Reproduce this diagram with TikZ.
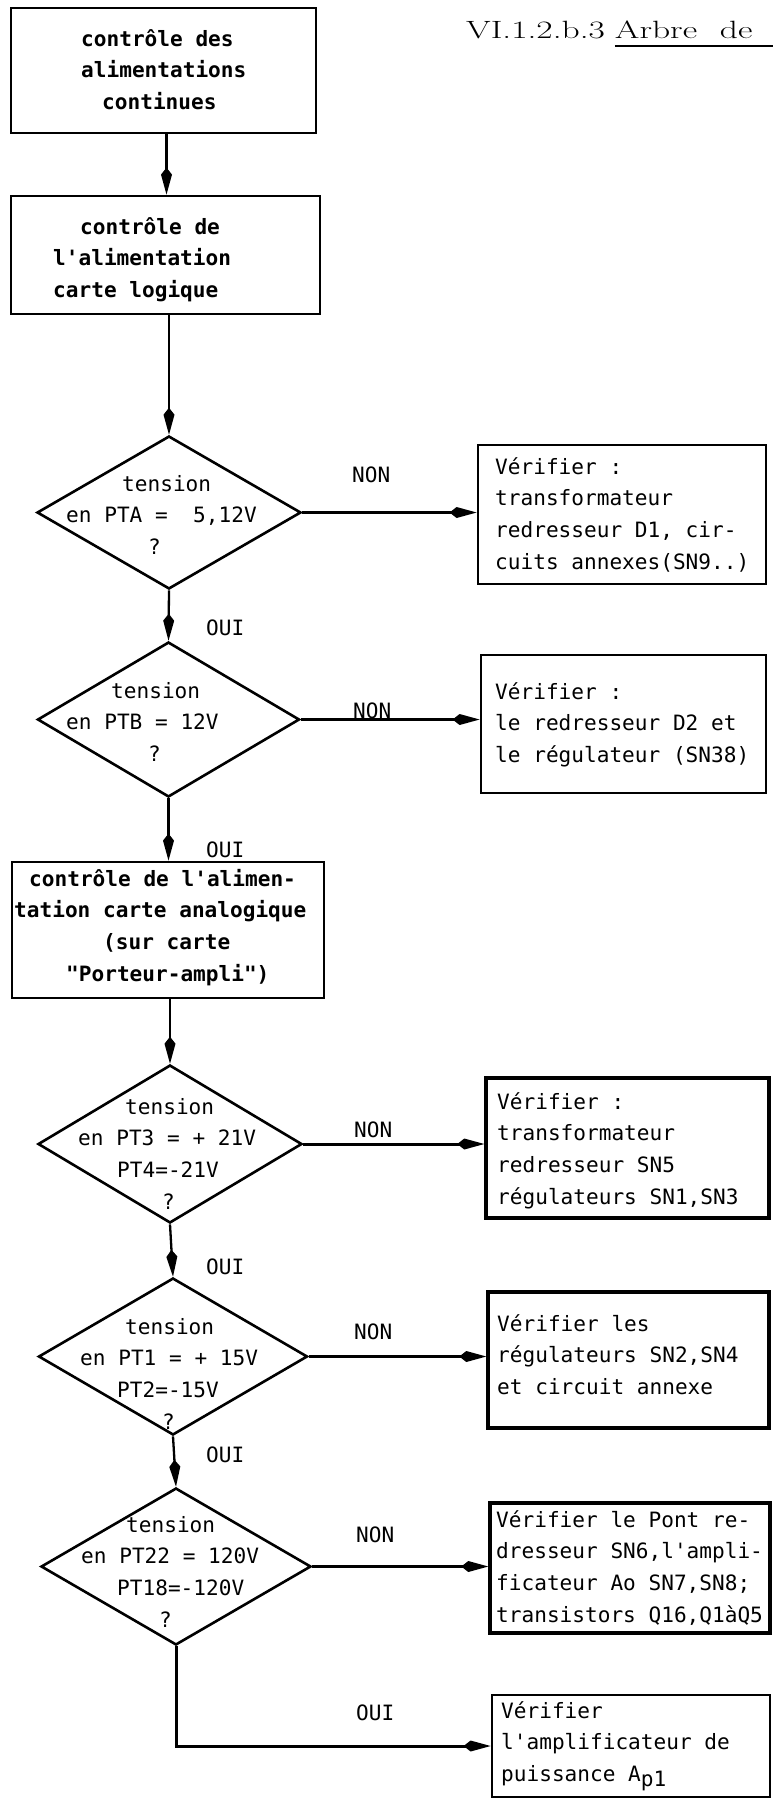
\documentclass[tikz,border=0pt]{standalone}
\usepackage{fontspec}
\usetikzlibrary{arrows.meta,shapes.geometric,fit}
\newfontfamily\typer[Ligatures=TeXOff]{DejaVu Sans Mono}
\newcommand\typesize{\fontsize{21.1}{31.7}\selectfont}

\begin{document}
\begin{tikzpicture}[x=1pt,y=-1pt,
  frame/.style={draw, rectangle, inner sep=0pt, line width=2.8pt},
  heavyframe/.style={frame, line width=3.4pt},
  decision/.style={draw, shape=diamond, inner sep=0pt, line width=2.6pt},
  typed/.style={font=\typer\typesize, align=left, inner sep=0pt, anchor=north west, yshift=22.19pt},
  boldtyped/.style={typed, font=\typer\typesize\bfseries},
  answer/.style={font=\typer\typesize, inner sep=0pt, anchor=base west},
  link/.style={line width=2.3pt, -{Kite[length=27pt,width=11pt,inset=7pt]}},
  sidelink/.style={link, line width=3pt},
]
\useasboundingbox (0,0) rectangle (773,1800);

% heading
\node[anchor=base west, inner sep=0pt] (title) at (466,38)
  {\fontsize{25}{29}\selectfont\scalebox{1.42}[1]{VI.1.2.b.3\hspace{7pt}\rlap{\rule[-9pt]{115pt}{1.6pt}}Arbre\hspace{16pt}de}};

% main column
\node[frame, fit={(11,8) (316,133)}] (b1) {};
\node[frame, fit={(11,196) (320,314)}] (b2) {};
\node[decision, minimum width=264pt, minimum height=153pt] (d1) at (169,512.5) {};
\node[decision, minimum width=262pt, minimum height=155pt] (d2) at (168.5,719.5) {};
\node[frame, fit={(12,862) (324,998)}] (b3) {};
\node[decision, minimum width=264pt, minimum height=158pt] (d3) at (170,1144) {};
\node[decision, minimum width=269pt, minimum height=157pt] (d4) at (173,1356.5) {};
\node[decision, minimum width=270pt, minimum height=157pt] (d5) at (176,1566.5) {};

% remedies on the right
\node[frame, fit={(478,445) (766,584)}] (rA) {};
\node[frame, fit={(481,655) (766,793)}] (rB) {};
\node[heavyframe, fit={(486,1078) (769,1218)}] (rC) {};
\node[heavyframe, fit={(488,1292) (769,1428)}] (rD) {};
\node[heavyframe, fit={(490,1503) (770,1633)}] (rE) {};
\node[frame, fit={(492,1695) (770,1797)}] (rF) {};

% texts of the main column
\node[boldtyped] (t1) at (81,46) {\strut contrôle des\\alimentations\\\hspace*{21pt}continues};
\node[boldtyped] (t2) at (53,234) {\strut\hspace*{27pt}contrôle de\\l'alimentation\\carte logique};
\node[boldtyped] (t3) at (14,886) {\strut\hspace*{15pt}contrôle de l'alimen-\\tation carte analogique\\\hspace*{89pt}(sur carte\\\hspace*{52pt}"Porteur-ampli")};

\node[typed] (q1) at (66,491) {\strut\hspace*{56pt}tension\\en PTA =~ 5,12V\\\hspace*{82pt}?};
\node[typed] (q2) at (66,698) {\strut\hspace*{45pt}tension\\en PTB = 12V\\\hspace*{82pt}?};
\node[typed] (q3) at (78,1114) {\strut\hspace*{47pt}tension\\en PT3 = + 21V\\\hspace*{39pt}PT4=-21V\\\hspace*{84pt}?};
\node[typed] (q4) at (80,1334) {\strut\hspace*{45pt}tension\\en PT1 = + 15V\\\hspace*{37pt}PT2=-15V\\\hspace*{82pt}?};
\node[typed] (q5) at (81,1532) {\strut\hspace*{45pt}tension\\en PT22 = 120V\\\hspace*{36pt}PT18=-120V\\\hspace*{78pt}?};

% texts of the remedies
\node[typed] (sA) at (495,474) {\strut Vérifier :\\transformateur\\redresseur D1, cir-\\cuits annexes(SN9..)};
\node[typed] (sB) at (495,699) {\strut Vérifier :\\le redresseur D2 et\\le régulateur (SN38)};
\node[typed] (sC) at (497,1109) {\strut Vérifier :\\transformateur\\redresseur SN5\\régulateurs SN1,SN3};
\node[typed] (sD) at (497,1331) {\strut Vérifier les\\régulateurs SN2,SN4\\et circuit annexe};
\node[typed] (sE) at (496,1527) {\strut Vérifier le Pont re-\\dresseur SN6,l'ampli-\\ficateur Ao SN7,SN8;\\transistors Q16,Q1àQ5};
\node[typed] (sF) at (501,1718) {\strut Vérifier\\l'amplificateur de\\puissance A\raisebox{-5pt}{p1}};

% answers
\node[answer] (n1) at (352,482) {NON};
\node[answer] (n2) at (353,718) {NON};
\node[answer] (n3) at (354,1137) {NON};
\node[answer] (n4) at (354,1339) {NON};
\node[answer] (n5) at (356,1542) {NON};
\node[answer] (o1) at (206,635) {OUI};
\node[answer] (o2) at (206,857) {OUI};
\node[answer] (o3) at (206,1274) {OUI};
\node[answer] (o4) at (206,1462) {OUI};
\node[answer] (o5) at (356,1720) {OUI};

% connectors
\draw[link] ([xshift=3pt]b1.south) -- ([xshift=3pt]b1.south |- b2.north);
\draw[link] (b2.south -| d1.north) -- (d1.north);
\draw[link] (d1.south) -- (d2.north);
\draw[link] (d2.south) -- (d2.south |- b3.north);
\draw[link] (b3.south -| d3.north) -- (d3.north);
\draw[link] (d3.south) -- (d4.north);
\draw[link] (d4.south) -- (d5.north);
\draw[sidelink] (d1.east) -- (d1.east -| rA.west);
\draw[sidelink] (d2.east) -- (d2.east -| rB.west);
\draw[sidelink] (d3.east) -- (d3.east -| rC.west);
\draw[sidelink] (d4.east) -- (d4.east -| rD.west);
\draw[sidelink] (d5.east) -- (d5.east -| rE.west);
\draw[sidelink] (d5.south) |- (rF.west);
\end{tikzpicture}
\end{document}
